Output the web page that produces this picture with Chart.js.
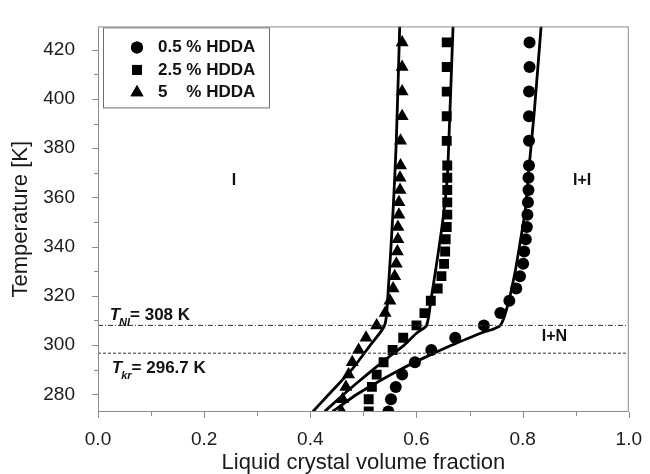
<!DOCTYPE html>
<html>
<head>
<meta charset="utf-8">
<script src="https://cdn.jsdelivr.net/npm/chart.js@4.4.1/dist/chart.umd.min.js"></script>
<style>
  html, body { margin: 0; padding: 0; background: #fff; }
</style>
</head>
<body>
<canvas id="chart" width="650" height="474"></canvas>
<script>
// measured temperatures [K]
const temps = [273, 278, 283, 288, 293, 298, 303, 308, 313, 318, 323, 328, 333, 338, 343, 348, 353, 358, 363, 368, 373, 383, 393, 403, 413, 423];

// liquid crystal volume fraction
const hdda05 = [0.547, 0.552, 0.561, 0.573, 0.597, 0.628, 0.673, 0.727, 0.758, 0.775, 0.788, 0.795, 0.801, 0.803, 0.806, 0.808, 0.809, 0.810, 0.811, 0.811, 0.812, 0.812, 0.812, 0.812, 0.813, 0.813];
const hdda25 = [0.510, 0.510, 0.516, 0.525, 0.538, 0.555, 0.575, 0.600, 0.615, 0.627, 0.640, 0.647, 0.652, 0.654, 0.655, 0.657, 0.658, 0.658, 0.658, 0.658, 0.658, 0.657, 0.657, 0.657, 0.657, 0.657];
const hdda5 = [0.459, 0.461, 0.467, 0.472, 0.479, 0.491, 0.505, 0.525, 0.541, 0.550, 0.556, 0.559, 0.562, 0.564, 0.565, 0.565, 0.567, 0.567, 0.569, 0.569, 0.570, 0.570, 0.573, 0.573, 0.573, 0.573];

const seriesNames = ['0.5 % HDDA', '2.5 % HDDA', '5    % HDDA'];

// model curves (solid lines)
const fitT05 = [273, 280, 285, 290, 295, 300, 305, 308, 318, 330, 340, 355, 372, 395, 430];
const fit05 = [0.442, 0.488, 0.527, 0.569, 0.616, 0.667, 0.723, 0.758, 0.774, 0.786, 0.794, 0.805, 0.812, 0.822, 0.835];
const fitT25 = [273, 280, 285, 290, 295, 300, 305, 308, 318, 336, 353, 368, 383, 430];
const fit25 = [0.427, 0.463, 0.490, 0.518, 0.547, 0.577, 0.601, 0.619, 0.627, 0.640, 0.651, 0.658, 0.661, 0.669];
const fitT5 = [273, 280, 290, 300, 308, 318, 355, 383, 430];
const fit5 = [0.405, 0.435, 0.478, 0.513, 0.540, 0.5455, 0.556, 0.562, 0.5685];

// characteristic temperatures
const tNI = 308;
const tKr = 296.7;

const xTicks = [0, 0.2, 0.4, 0.6, 0.8, 1.0];
const yTicks = [280, 300, 320, 340, 360, 380, 400, 420];

const pts = (xs, ys) => xs.map((v, i) => ({ x: v, y: ys[i] }));

const textFont = '"Liberation Sans", Arial, sans-serif';

const annotate = {
  id: 'annotate',
  afterDatasetsDraw(chart) {
    const { ctx, chartArea: a, scales: { x, y } } = chart;
    ctx.save();
    // frame round the plot
    ctx.strokeStyle = '#8c8c8c';
    ctx.lineWidth = 1;
    ctx.strokeRect(a.left + 0.5, a.top + 0.5, a.right - a.left - 1, a.bottom - a.top - 1);
    // tick marks, outside
    x.ticks.forEach(t => {
      const px = Math.round(x.getPixelForValue(t.value)) + 0.5;
      const major = Math.round(t.value * 10) % 2 === 0;
      ctx.beginPath();
      ctx.moveTo(px, a.bottom);
      ctx.lineTo(px, a.bottom + (major ? 6 : 4));
      ctx.stroke();
    });
    y.ticks.forEach(t => {
      const py = Math.round(y.getPixelForValue(t.value)) + 0.5;
      const major = t.value % 20 === 0;
      ctx.beginPath();
      ctx.moveTo(a.left, py);
      ctx.lineTo(a.left - (major ? 6 : 4), py);
      ctx.stroke();
    });

    // legend box
    const lx = a.left + 5, ly = a.top + 1;
    ctx.fillStyle = '#fff';
    ctx.fillRect(lx, ly, 166, 80);
    ctx.strokeStyle = '#6e6e6e';
    ctx.strokeRect(lx + 0.5, ly + 0.5, 166, 80);
    const styles = ['circle', 'rect', 'triangle'];
    const radii = [6, 7, 7.5];
    ctx.font = 'bold 17px ' + textFont;
    ctx.textBaseline = 'middle';
    ctx.fillStyle = '#111';
    const pctX = lx + 55 + ctx.measureText('0.5 ').width;
    seriesNames.forEach((name, i) => {
      const ry = ly + 20 + i * 22.5;
      Chart.helpers.drawPoint(ctx, { pointStyle: styles[i], radius: radii[i], borderWidth: 0 }, lx + 34, ry);
      ctx.fillStyle = '#000';
      ctx.fill();
      ctx.fillStyle = '#111';
      const parts = name.split('%');
      ctx.textAlign = 'left';
      ctx.fillText(parts[0].trim(), lx + 55, ry);
      ctx.fillText('%' + parts[1], pctX, ry);
    });

    // region labels
    ctx.font = 'bold 16px ' + textFont;
    ctx.textAlign = 'center';
    ctx.fillText('I', x.getPixelForValue(0.256), y.getPixelForValue(367));
    ctx.fillText('I+I', x.getPixelForValue(0.912), y.getPixelForValue(367));
    ctx.fillText('I+N', x.getPixelForValue(0.86), y.getPixelForValue(303.3));

    // temperature labels with subscripts
    const tLabel = (sub, rest, px, base) => {
      ctx.textAlign = 'left';
      ctx.textBaseline = 'alphabetic';
      ctx.font = 'italic bold 17px ' + textFont;
      ctx.fillText('T', px, base);
      let cx = px + ctx.measureText('T').width - 1;
      ctx.font = 'italic bold 11px ' + textFont;
      ctx.fillText(sub, cx, base + 6);
      cx += ctx.measureText(sub).width;
      ctx.font = 'bold 17px ' + textFont;
      ctx.fillText(rest, cx, base);
    };
    tLabel('NI', '= 308 K', x.getPixelForValue(0.022), y.getPixelForValue(tNI) - 5);
    tLabel('kr', '= 296.7 K', x.getPixelForValue(0.026), y.getPixelForValue(tKr) + 20);
    ctx.restore();
  }
};

const markerBase = { showLine: false, backgroundColor: '#000', borderColor: '#000', borderWidth: 0, pointHoverRadius: 0 };
const lineBase = { showLine: true, pointRadius: 0, borderColor: '#000', borderWidth: 2.8, tension: 0.25, fill: false };

new Chart(document.getElementById('chart'), {
  type: 'scatter',
  data: {
    datasets: [
      { ...lineBase, data: [{ x: 0, y: tNI }, { x: 1, y: tNI }], borderWidth: 1, borderColor: '#333', borderDash: [5, 2, 1, 2], tension: 0 },
      { ...lineBase, data: [{ x: 0, y: tKr }, { x: 1, y: tKr }], borderWidth: 1, borderColor: '#333', borderDash: [3, 2], tension: 0 },
      { ...markerBase, label: seriesNames[0], data: pts(hdda05, temps), pointStyle: 'circle', pointRadius: 6 },
      { ...markerBase, label: seriesNames[1], data: pts(hdda25, temps), pointStyle: 'rect', pointRadius: 7 },
      { ...markerBase, label: seriesNames[2], data: pts(hdda5, temps), pointStyle: 'triangle', pointRadius: 7.5 },
      { ...lineBase, data: pts(fit05, fitT05) },
      { ...lineBase, data: pts(fit25, fitT25) },
      { ...lineBase, data: pts(fit5, fitT5) }
    ]
  },
  options: {
    responsive: false,
    animation: false,
    devicePixelRatio: 1,
    layout: { padding: { left: 0, right: 12, top: 10, bottom: 0 } },
    plugins: { legend: { display: false }, tooltip: { enabled: false } },
    scales: {
      x: {
        type: 'linear', min: 0, max: 1,
        afterFit: s => { s.height = 62; },
        grid: { display: false },
        border: { display: false },
        ticks: {
          stepSize: 0.1, includeBounds: false, padding: 8, color: '#1a1a1a',
          font: { family: textFont, size: 19 },
          callback: v => {
            const r = Math.round(v * 10) / 10;
            return xTicks.some(t => Math.abs(t - r) < 1e-6) ? r.toFixed(1) : '';
          }
        },
        title: { display: true, text: 'Liquid crystal volume fraction', color: '#1a1a1a',
          font: { family: textFont, size: 22, lineHeight: 1 }, padding: { top: 0, bottom: 0 } }
      },
      y: {
        type: 'linear', min: 272.8, max: 429.5,
        afterFit: s => { s.width = 98; },
        grid: { display: false },
        border: { display: false },
        ticks: {
          stepSize: 10, includeBounds: false, padding: 15, color: '#1a1a1a',
          font: { family: textFont, size: 19 },
          callback: v => (yTicks.includes(v) ? String(v) : '')
        },
        title: { display: true, text: 'Temperature [K]', color: '#1a1a1a',
          font: { family: textFont, size: 22, lineHeight: 1 }, padding: { top: 10, bottom: 0 } }
      }
    }
  },
  plugins: [annotate]
});
</script>
</body>
</html>
